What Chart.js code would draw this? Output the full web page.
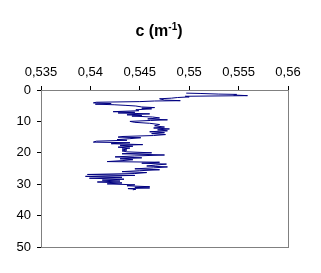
<!DOCTYPE html>
<html>
<head>
<meta charset="utf-8">
<script src="https://cdn.jsdelivr.net/npm/chart.js@4.4.0/dist/chart.umd.min.js"></script>
<style>
  body { margin: 0; background: #fff; }
</style>
</head>
<body>
<canvas id="profileChart" width="321" height="273"></canvas>
<script>
// Depth profile data (depth in m, c in m^-1)
const depths = [
  1.0, 1.1, 1.3, 1.4, 1.6, 1.8, 2.0, 2.2, 2.4, 2.6, 2.8, 3.2, 3.4, 3.5, 3.7, 3.9,
  4.1, 4.3, 4.5, 4.7, 4.9, 5.1, 5.4, 5.6, 5.8, 6.0, 6.3, 6.6, 6.9, 7.1, 7.3, 7.6,
  7.9, 8.1, 8.3, 8.6, 8.9, 9.2, 9.5, 9.7, 10.0, 10.3, 10.6, 11.0, 11.4, 11.8, 12.1, 12.4,
  12.7, 13.0, 13.3, 13.6, 13.9, 14.2, 14.5, 14.8, 15.0, 15.2, 15.5, 15.8, 16.0, 16.3, 16.6, 16.8,
  17.1, 17.4, 17.6, 17.9, 18.2, 18.5, 18.8, 19.1, 19.4, 19.7, 20.0, 20.3, 20.7, 21.0, 21.3, 21.6,
  21.9, 22.2, 22.5, 22.8, 23.0, 23.3, 23.6, 23.9, 24.2, 24.5, 24.8, 25.1, 25.4, 25.7, 26.0, 26.3,
  26.6, 26.9, 27.2, 27.5, 27.8, 28.1, 28.4, 28.7, 29.0, 29.3, 29.6, 29.9, 30.2, 30.5, 30.8, 31.0,
  31.2, 31.4, 31.6, 31.8
];
const cValues = [
  0.5497, 0.5511, 0.5530, 0.5548, 0.5545, 0.5559, 0.5496, 0.5500, 0.5488, 0.5482, 0.5470, 0.5475, 0.5491, 0.5465, 0.5450, 0.5406,
  0.5403, 0.5421, 0.5405, 0.5424, 0.5436, 0.5446, 0.5452, 0.5465, 0.5452, 0.5462, 0.5446, 0.5449, 0.5423, 0.5445, 0.5428, 0.5460,
  0.5437, 0.5452, 0.5442, 0.5463, 0.5470, 0.5458, 0.5478, 0.5461, 0.5440, 0.5445, 0.5460, 0.5470, 0.5465, 0.5475, 0.5464, 0.5480,
  0.5468, 0.5478, 0.5460, 0.5475, 0.5462, 0.5476, 0.5464, 0.5433, 0.5428, 0.5451, 0.5440, 0.5427, 0.5437, 0.5406, 0.5403, 0.5440,
  0.5421, 0.5453, 0.5430, 0.5443, 0.5428, 0.5440, 0.5432, 0.5437, 0.5432, 0.5437, 0.5462, 0.5432, 0.5475, 0.5445, 0.5425, 0.5452,
  0.5430, 0.5443, 0.5432, 0.5417, 0.5470, 0.5452, 0.5477, 0.5466, 0.5457, 0.5478, 0.5464, 0.5445, 0.5470, 0.5450, 0.5432, 0.5457,
  0.5445, 0.5397, 0.5445, 0.5395, 0.5432, 0.5399, 0.5434, 0.5412, 0.5430, 0.5407, 0.5432, 0.5417, 0.5445, 0.5437, 0.5460, 0.5445,
  0.5460, 0.5438, 0.5446, 0.5443
];
const xTicks = [0.535, 0.54, 0.545, 0.55, 0.555, 0.56];
const yTicks = [0, 10, 20, 30, 40, 50];
const titleMain = 'c (m';
const titleSup = '-1';
const titleEnd = ')';

const points = depths.map((d, i) => ({ x: cValues[i], y: d }));

// gray frame on right / bottom of the plot area
const plotFrame = {
  id: 'plotFrame',
  beforeDatasetsDraw(chart) {
    const a = chart.chartArea;
    const ctx = chart.ctx;
    ctx.save();
    ctx.strokeStyle = '#808080';
    ctx.lineWidth = 1;
    ctx.strokeRect(Math.round(a.left) + 0.5, Math.round(a.top) + 0.5,
      Math.round(a.right - a.left), Math.round(a.bottom - a.top));
    ctx.restore();
  }
};

// title with a real superscript
const supTitle = {
  id: 'supTitle',
  afterDraw(chart) {
    const ctx = chart.ctx;
    ctx.save();
    ctx.fillStyle = '#000';
    ctx.textBaseline = 'alphabetic';
    ctx.textAlign = 'left';
    const bigFont = 'bold 16px "Liberation Sans", Arial';
    const smallFont = 'bold 10px "Liberation Sans", Arial';
    ctx.font = bigFont;
    const w1 = ctx.measureText(titleMain).width;
    const w3 = ctx.measureText(titleEnd).width;
    ctx.font = smallFont;
    const w2 = ctx.measureText(titleSup).width;
    let x = 159 - (w1 + w2 + w3) / 2;
    ctx.font = bigFont;
    ctx.fillText(titleMain, x, 36);
    x += w1;
    ctx.font = smallFont;
    ctx.fillText(titleSup, x, 30);
    x += w2;
    ctx.font = bigFont;
    ctx.fillText(titleEnd, x, 36);
    ctx.restore();
  }
};

const ctx = document.getElementById('profileChart').getContext('2d');
new Chart(ctx, {
  type: 'scatter',
  data: {
    datasets: [{
      data: points,
      showLine: true,
      borderColor: '#000080',
      borderWidth: 1,
      pointRadius: 0,
      tension: 0
    }]
  },
  options: {
    responsive: false,
    animation: false,
    layout: { padding: { left: 0, right: 33, top: 47.2, bottom: 26 } },
    plugins: {
      legend: { display: false },
      tooltip: { enabled: false },
      title: { display: false }
    },
    scales: {
      x: {
        type: 'linear',
        position: 'top',
        min: xTicks[0],
        max: xTicks[xTicks.length - 1],
        afterBuildTicks(scale) { scale.ticks = xTicks.map(v => ({ value: v })); },
        afterFit(scale) { scale.height = 90 - 47.2; },
        grid: { display: true, drawOnChartArea: false, drawTicks: true, tickLength: 4, color: '#000' },
        border: { color: '#000' },
        ticks: {
          color: '#000',
          padding: 6,
          maxRotation: 0,
          font: { family: 'Liberation Sans, Arial', size: 13 },
          callback: v => String(Number(v.toFixed(3))).replace('.', ',')
        }
      },
      y: {
        type: 'linear',
        reverse: true,
        min: yTicks[0],
        max: yTicks[yTicks.length - 1],
        afterBuildTicks(scale) { scale.ticks = yTicks.map(v => ({ value: v })); },
        afterFit(scale) { scale.width = 41; },
        grid: { display: true, drawOnChartArea: false, drawTicks: true, tickLength: 4, color: '#000' },
        border: { color: '#000' },
        ticks: {
          color: '#000',
          padding: 6,
          font: { family: 'Liberation Sans, Arial', size: 13 }
        }
      }
    }
  },
  plugins: [plotFrame, supTitle]
});
</script>
</body>
</html>
